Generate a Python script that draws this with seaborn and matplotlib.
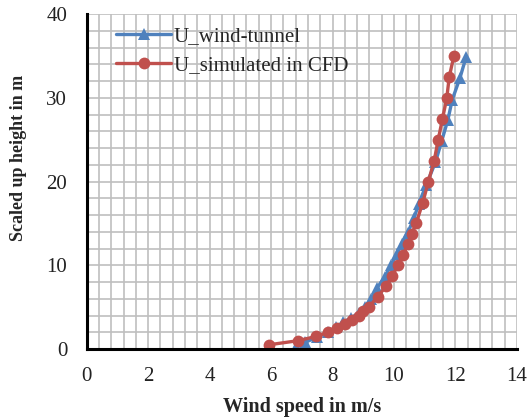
import numpy as np
import pandas as pd
import matplotlib
matplotlib.use("Agg")
import matplotlib.pyplot as plt
from matplotlib.ticker import MultipleLocator
import seaborn as sns

# Wind tunnel measurements
tunnel_speed = [6.8, 7.1, 7.5, 7.85, 8.1, 8.35, 8.6, 8.85, 9.05, 9.25, 9.45, 9.7,
                9.9, 10.1, 10.25, 10.45, 10.65, 10.8, 11.05, 11.35, 11.55, 11.75,
                11.9, 12.15, 12.35]
tunnel_height = [0.3, 0.8, 1.4, 2.0, 2.6, 3.2, 3.7, 4.3, 5.0, 6.0, 7.3, 8.6,
                 10.0, 11.3, 12.6, 13.9, 15.6, 17.3, 19.6, 22.3, 24.8, 27.3,
                 29.8, 32.4, 34.9]

# CFD simulation
cfd_speed = [5.92, 6.88, 7.46, 7.84, 8.14, 8.41, 8.65, 8.85, 9.0, 9.18, 9.47,
             9.74, 9.95, 10.13, 10.3, 10.45, 10.58, 10.72, 10.94, 11.12, 11.31,
             11.44, 11.58, 11.72, 11.8, 11.95]
cfd_height = [0.5, 1.0, 1.5, 2.0, 2.5, 3.0, 3.5, 4.0, 4.5, 5.0, 6.25, 7.5, 8.75,
              10.0, 11.25, 12.5, 13.75, 15.0, 17.5, 20.0, 22.5, 25.0, 27.5, 30.0,
              32.5, 35.0]

labels = ["U_wind-tunnel", "U_simulated in CFD"]

df = pd.concat([
    pd.DataFrame({"speed": tunnel_speed, "height": tunnel_height, "series": labels[0]}),
    pd.DataFrame({"speed": cfd_speed, "height": cfd_height, "series": labels[1]}),
], ignore_index=True)

sns.set_style("white")
plt.rcParams["font.family"] = ["Liberation Serif", "DejaVu Serif"]

fig = plt.figure(figsize=(5.29, 4.17), dpi=100)
ax = fig.add_axes([0.164, 0.163, 0.813, 0.803])

palette = {labels[0]: "#4F81BD", labels[1]: "#C0504D"}
sns.lineplot(data=df, x="speed", y="height", hue="series", style="series",
             markers={labels[0]: "^", labels[1]: "o"}, dashes=False,
             palette=palette, sort=False, estimator=None, ax=ax,
             linewidth=2.4, markersize=8.5, markeredgewidth=0)

ax.set_xlim(0, 14)
ax.set_ylim(0, 40)
ax.xaxis.set_major_locator(MultipleLocator(2))
ax.xaxis.set_minor_locator(MultipleLocator(0.4))
ax.yaxis.set_major_locator(MultipleLocator(10))
ax.yaxis.set_minor_locator(MultipleLocator(2))
ax.grid(True, which="both", color="#BFBFBF", linewidth=1.2)
ax.set_axisbelow(True)

for s in ["top", "right"]:
    ax.spines[s].set_visible(False)
for s in ["left", "bottom"]:
    ax.spines[s].set_color("black")
    ax.spines[s].set_linewidth(2.2)
    ax.spines[s].set_zorder(5)

ax.tick_params(axis="x", which="major", direction="out", length=5, width=1.5,
               colors="black", labelsize=15, pad=8)
ax.tick_params(axis="x", which="minor", length=0)
ax.tick_params(axis="y", which="major", direction="out", length=6, width=1.5,
               colors="black", labelsize=15, pad=8)
ax.tick_params(axis="y", which="minor", direction="inout", length=7, width=1.5,
               colors="black")
for t in ax.get_xticklabels() + ax.get_yticklabels():
    t.set_color("#222222")

ax.set_xlabel("Wind speed in m/s", fontsize=14.5, fontweight="bold")
ax.set_ylabel("Scaled up height in m", fontsize=13, fontweight="bold")
ax.xaxis.set_label_coords(0.5, -0.143)
ax.yaxis.set_label_coords(-0.138, 0.57)

leg = ax.legend(loc="upper left", bbox_to_anchor=(0.04, 1.0), frameon=False,
                fontsize=15, handlelength=2.6, handletextpad=0.15,
                labelspacing=0.45, borderaxespad=0.2)

fig.savefig("out.png", dpi=100, facecolor="white")
